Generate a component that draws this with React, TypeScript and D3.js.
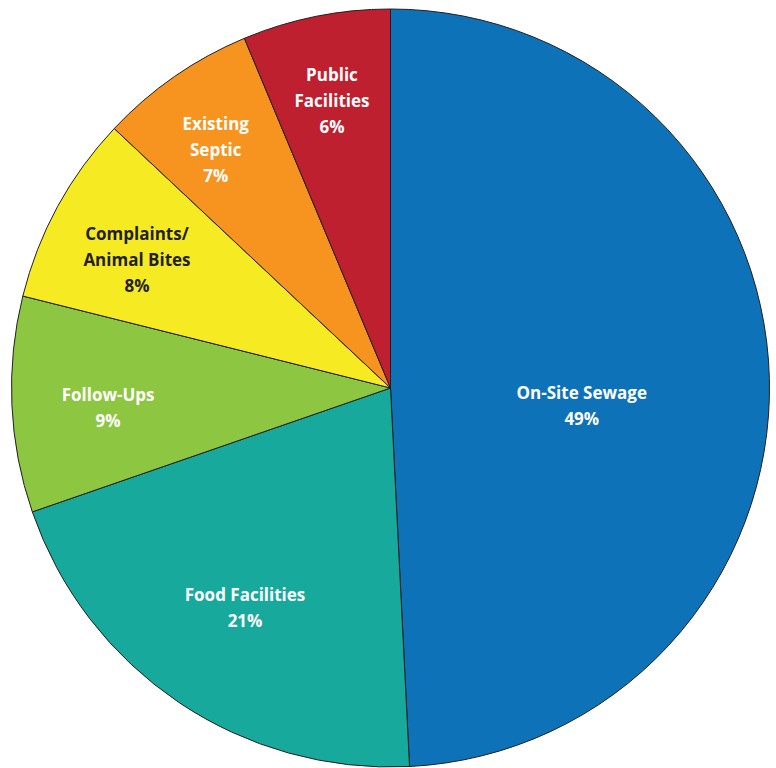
import React from "react";
import * as d3 from "d3";

const categories = [
  "On-Site Sewage",
  "Food Facilities",
  "Follow-Ups",
  "Complaints/ Animal Bites",
  "Existing Septic",
  "Public Facilities",
];
const values = [49.2, 20.5, 9.2, 8.1, 6.7, 6.3];
const labelNames = [
  ["On-Site Sewage"],
  ["Food Facilities"],
  ["Follow-Ups"],
  ["Complaints/", "Animal Bites"],
  ["Existing", "Septic"],
  ["Public", "Facilities"],
];
const colors = ["#0E72B9", "#17A99B", "#8DC641", "#F6EB22", "#F7941F", "#BF202F"];
const textColors = ["#fff", "#fff", "#fff", "#231F20", "#fff", "#fff"];
// label placement: fraction of radius and angular shift (degrees) from slice mid-angle
const labelRadiusFactor = [0.507, 0.697, 0.747, 0.749, 0.78, 0.772];
const labelAngleShift = [6.9, -0.6, -1.45, -1.9, -1.5, -0.2];

const W = 776;
const H = 768;
const cx = 390.5;
const cy = 388;
const R = 379;
const lineH = 26;

export default function App() {
  const data = categories.map((c, i) => ({ c, v: values[i], i }));
  const pie = d3.pie<any>().value((d) => d.v).sort(null).startAngle(0).endAngle(2 * Math.PI);
  const arcs = pie(data);
  const arc = d3.arc<any>().innerRadius(0).outerRadius(R);
  return (
    <svg width={W} height={H} style={{ position: "absolute", left: 0, top: 0 }}>
      <g transform={`translate(${cx},${cy})`}>
        {arcs.map((a, i) => (
          <path key={i} d={arc(a) as string} fill={colors[i]} stroke="#231F20" strokeWidth={1} />
        ))}
        {arcs.map((a, i) => {
          const mid = (a.startAngle + a.endAngle) / 2 + (labelAngleShift[i] * Math.PI) / 180;
          const r = R * labelRadiusFactor[i];
          const x = r * Math.sin(mid);
          const y = -r * Math.cos(mid);
          const lines = [...labelNames[i], `${Math.round(values[i])}%`];
          const y0 = y - ((lines.length - 1) * lineH) / 2;
          return (
            <text
              key={"t" + i}
              x={x}
              textAnchor="middle"
              fontFamily="'Open Sans', sans-serif"
              fontWeight="bold"
              fontSize={17}
              fill={textColors[i]}
            >
              {lines.map((l, j) => (
                <tspan key={j} x={x} y={y0 + j * lineH} dy="0.35em">
                  {l}
                </tspan>
              ))}
            </text>
          );
        })}
      </g>
    </svg>
  );
}
